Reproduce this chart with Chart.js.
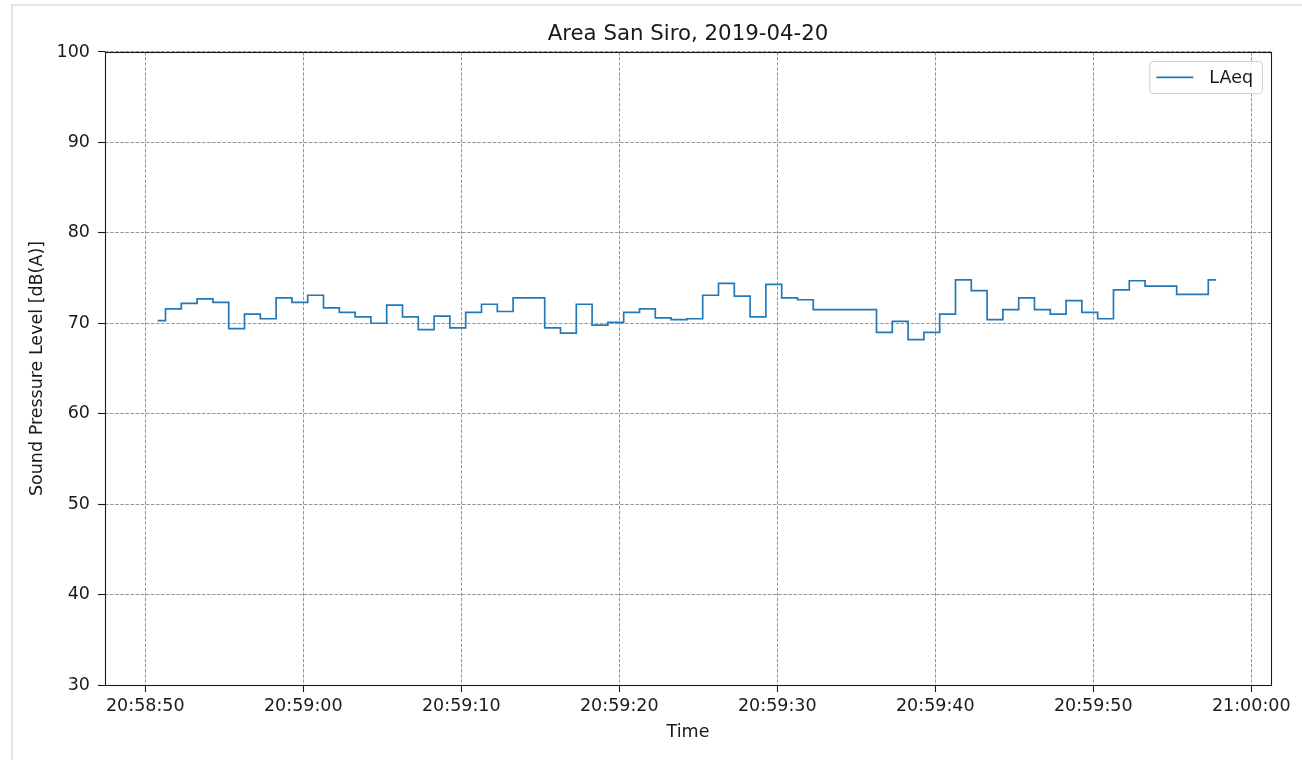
<!DOCTYPE html>
<html>
<head>
<meta charset="utf-8">
<title>Area San Siro, 2019-04-20</title>
<script src="https://cdn.jsdelivr.net/npm/chart.js@4/dist/chart.umd.min.js"></script>
<style>
  html, body { margin: 0; padding: 0; background: #ffffff; }
  #wrap { position: relative; width: 1302px; height: 760px; overflow: hidden; }
  #wrap canvas { position: absolute; left: 0; top: 0; }
  #frame {
    position: absolute; left: 11px; top: 4px; right: -4px; bottom: -4px;
    border-top: 2px solid #e4e4e4; border-left: 2px solid #e4e4e4;
    pointer-events: none;
  }
</style>
</head>
<body>
<div id="wrap">
  <canvas id="chart" width="1302" height="760"></canvas>
  <div id="frame"></div>
</div>
<script>
// Sample timestamps (1 s LAeq readings)
const times = [
  "20:58:50.78", "20:58:51.78", "20:58:52.78", "20:58:53.78", "20:58:54.78",
  "20:58:55.78", "20:58:56.78", "20:58:57.78", "20:58:58.78", "20:58:59.78",
  "20:59:00.78", "20:59:01.78", "20:59:02.78", "20:59:03.78", "20:59:04.78",
  "20:59:05.78", "20:59:06.78", "20:59:07.78", "20:59:08.78", "20:59:09.78",
  "20:59:10.78", "20:59:11.78", "20:59:12.78", "20:59:13.78", "20:59:14.78",
  "20:59:15.78", "20:59:16.78", "20:59:17.78", "20:59:18.78", "20:59:19.78",
  "20:59:20.78", "20:59:21.78", "20:59:22.78", "20:59:23.78", "20:59:24.78",
  "20:59:25.78", "20:59:26.78", "20:59:27.78", "20:59:28.78", "20:59:29.78",
  "20:59:30.78", "20:59:31.78", "20:59:32.78", "20:59:33.78", "20:59:34.78",
  "20:59:35.78", "20:59:36.78", "20:59:37.78", "20:59:38.78", "20:59:39.78",
  "20:59:40.78", "20:59:41.78", "20:59:42.78", "20:59:43.78", "20:59:44.78",
  "20:59:45.78", "20:59:46.78", "20:59:47.78", "20:59:48.78", "20:59:49.78",
  "20:59:50.78", "20:59:51.78", "20:59:52.78", "20:59:53.78", "20:59:54.78",
  "20:59:55.78", "20:59:56.78", "20:59:57.78"
];

// LAeq values in dB(A)
const laeq = [
  70.3, 71.6, 72.2, 72.7, 72.3, 69.4, 71.0, 70.5, 72.8, 72.3,
  73.1, 71.7, 71.2, 70.7, 70.0, 72.0, 70.7, 69.3, 70.8, 69.5,
  71.2, 72.1, 71.3, 72.8, 72.8, 69.5, 68.9, 72.1, 69.8, 70.1,
  71.2, 71.6, 70.6, 70.4, 70.5, 73.1, 74.4, 73.0, 70.7, 74.3,
  72.8, 72.6, 71.5, 71.5, 71.5, 71.5, 69.0, 70.2, 68.2, 69.0,
  71.0, 74.8, 73.6, 70.4, 71.5, 72.8, 71.5, 71.0, 72.5, 71.2,
  70.5, 73.7, 74.7, 74.1, 74.1, 73.2, 73.2, 74.8
];

// Axis limits
const timeRange = ["20:58:47.45", "21:00:01.25"];
const levelRange = [30, 100];
const levelStep = 10;
const timeStep = 10;

const seriesLabel = "LAeq";
const chartTitle = "Area San Siro, 2019-04-20";
const xTitle = "Time";
const yTitle = "Sound Pressure Level [dB(A)]";

// "hh:mm:ss(.fff)" -> seconds of the day
function toSeconds(s) {
  const [h, m, sec] = s.split(":");
  return (+h) * 3600 + (+m) * 60 + parseFloat(sec);
}
function fmtClock(v) {
  const t = Math.round(v);
  const h = Math.floor(t / 3600) % 24;
  const m = Math.floor((t % 3600) / 60);
  const s = t % 60;
  const p = n => String(n).padStart(2, "0");
  return p(h) + ":" + p(m) + ":" + p(s);
}

const points = times.map((t, i) => ({ x: toSeconds(t), y: laeq[i] }));

const FONT = "'DejaVu Sans', 'Liberation Sans', sans-serif";
const TEXT = "#1a1a1a";
const GRID = "#8a8a8a";
const SPINE = "#1a1a1a";
const LABEL_SIZE = 17.5;

// Closed frame around the plotting area, drawn over the data
const spines = {
  id: "spines",
  afterDatasetsDraw(chart) {
    const { ctx, chartArea: a } = chart;
    ctx.save();
    ctx.strokeStyle = SPINE;
    ctx.lineWidth = 1.1;
    ctx.strokeRect(Math.round(a.left) + 0.5, Math.round(a.top) + 0.5,
                   Math.round(a.right - a.left), Math.round(a.bottom - a.top));
    ctx.restore();
  }
};

// Boxed legend in the upper right corner of the plotting area
const boxLegend = {
  id: "boxLegend",
  afterDraw(chart) {
    const { ctx, chartArea: a } = chart;
    const ds = chart.data.datasets[0];
    ctx.save();
    ctx.font = LABEL_SIZE + "px " + FONT;
    const tw = ctx.measureText(ds.label).width;
    const w = 60 + tw + 9;
    const h = 32;
    const x = a.right - 9 - w;
    const y = a.top + 9;
    ctx.beginPath();
    ctx.roundRect(x + 0.5, y + 0.5, w, h, 3);
    ctx.fillStyle = "rgba(255,255,255,0.8)";
    ctx.fill();
    ctx.strokeStyle = "#d0d0d0";
    ctx.lineWidth = 1;
    ctx.stroke();
    ctx.beginPath();
    ctx.moveTo(x + 7, y + h / 2 + 0.5);
    ctx.lineTo(x + 44, y + h / 2 + 0.5);
    ctx.strokeStyle = ds.borderColor;
    ctx.lineWidth = ds.borderWidth;
    ctx.stroke();
    ctx.fillStyle = TEXT;
    ctx.textBaseline = "middle";
    ctx.fillText(ds.label, x + 60, y + h / 2 + 1);
    ctx.restore();
  }
};

new Chart(document.getElementById("chart"), {
  type: "line",
  data: {
    datasets: [{
      label: seriesLabel,
      data: points,
      borderColor: "#2279b8",
      borderWidth: 1.7,
      pointRadius: 0,
      fill: false,
      stepped: "middle",
      tension: 0
    }]
  },
  options: {
    responsive: false,
    animation: false,
    devicePixelRatio: 1,
    layout: { padding: { left: 0, right: 31, top: 0, bottom: 0 } },
    plugins: {
      legend: { display: false },
      tooltip: { enabled: false },
      title: {
        display: true,
        text: chartTitle,
        fullSize: false,
        color: TEXT,
        font: { family: FONT, size: 21.3, weight: "normal" },
        padding: { top: 21.5, bottom: 4.9 }
      }
    },
    scales: {
      x: {
        type: "linear",
        min: toSeconds(timeRange[0]),
        max: toSeconds(timeRange[1]),
        afterFit(scale) { scale.height = 75; },
        border: { display: false, dash: [3.5, 1.6] },
        grid: {
          color: GRID, lineWidth: 0.9,
          tickLength: 7, tickColor: SPINE, tickWidth: 1.1, tickBorderDash: []
        },
        ticks: {
          stepSize: timeStep,
          includeBounds: false,
          maxRotation: 0,
          autoSkip: false,
          padding: 4,
          color: TEXT,
          font: { family: FONT, size: LABEL_SIZE },
          callback: v => fmtClock(v)
        },
        title: {
          display: true, text: xTitle, color: TEXT,
          font: { family: FONT, size: LABEL_SIZE },
          padding: { top: 0, bottom: 17.5 }
        }
      },
      y: {
        type: "linear",
        min: levelRange[0],
        max: levelRange[1],
        afterFit(scale) { scale.width = 105; },
        border: { display: false, dash: [3.5, 1.6] },
        grid: {
          color: GRID, lineWidth: 0.9,
          tickLength: 7, tickColor: SPINE, tickWidth: 1.1, tickBorderDash: []
        },
        ticks: {
          stepSize: levelStep,
          includeBounds: false,
          padding: 8,
          color: TEXT,
          font: { family: FONT, size: LABEL_SIZE }
        },
        title: {
          display: true, text: yTitle, color: TEXT,
          font: { family: FONT, size: LABEL_SIZE },
          padding: { top: 27, bottom: 0 }
        }
      }
    }
  },
  plugins: [spines, boxLegend]
});
</script>
</body>
</html>
